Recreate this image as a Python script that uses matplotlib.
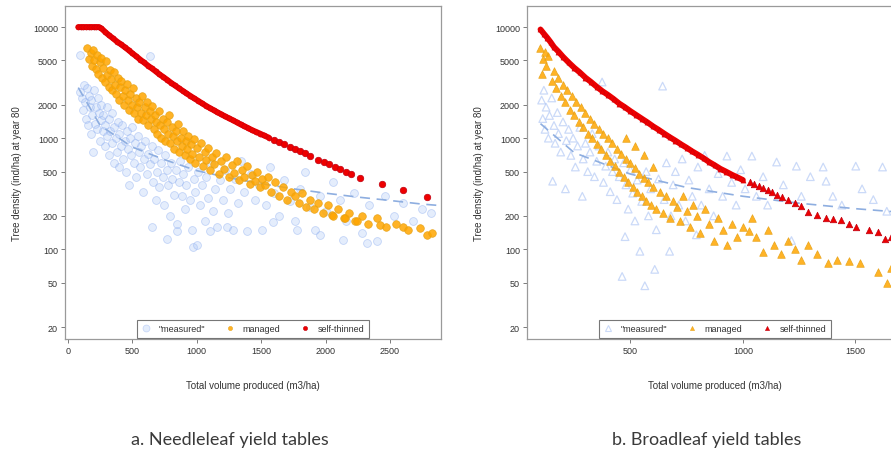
import matplotlib
matplotlib.use("Agg")
import matplotlib.pyplot as plt
from matplotlib.lines import Line2D

plt.rcParams["font.family"] = ["Liberation Sans", "DejaVu Sans"]

# ---------------- panel a: needleleaf ----------------
meas_x_a = [90, 95, 110, 120, 125, 135, 140, 150, 155, 160, 170, 175, 180, 190, 195, 200, 210, 215, 225, 230,
            240, 245, 255, 260, 270, 275, 285, 290, 300, 305, 315, 320, 330, 340, 345, 355, 360, 370, 380, 385,
            395, 400, 410, 420, 430, 440, 450, 455, 465, 475, 480, 490, 500, 510, 520, 530, 540, 550, 560, 570,
            580, 590, 600, 610, 620, 635, 640, 650, 652, 660, 670, 680, 690, 700, 710, 720, 735, 745, 755, 765,
            768, 775, 790, 800, 810, 825, 835, 846, 850, 860, 870, 885, 895, 910, 920, 935, 950, 960, 970, 975,
            990, 1000, 1010, 1025, 1040, 1060, 1075, 1090, 1102, 1110, 1125, 1140, 1160, 1180, 1200, 1220, 1234, 1240,
            1260, 1280, 1300, 1320, 1345, 1370, 1390, 1420, 1450, 1480, 1510, 1540, 1570, 1592, 1600, 1640, 1680,
            1720, 1760, 1778, 1800, 1840, 1880, 1920, 1957, 1960, 2000, 2060, 2110, 2135, 2160, 2220, 2280, 2321,
            2340, 2400, 2460, 2530, 2600, 2680, 2750, 2820]
meas_y_a = [5600, 2600, 2300, 1800, 3000, 2100, 1500, 2800, 1300, 2400, 1900, 1100, 2200, 1600, 750, 2700, 1350, 1900, 1200, 2300,
            1700, 950, 1450, 2000, 1150, 1600, 850, 1300, 1900, 1050, 700, 1500, 1150, 900, 1700, 600, 1250, 1000, 750, 1400,
            550, 1100, 850, 1300, 650, 950, 500, 1150, 800, 380, 1000, 700, 1250, 600, 900, 450, 1050, 750, 550, 850,
            330, 650, 950, 480, 720, 5500, 580, 850, 158, 400, 650, 280, 500, 780, 360, 600, 450, 250, 700, 520,
            123, 380, 200, 600, 430, 310, 520, 145, 170, 400, 620, 300, 480, 230, 380, 550, 280, 150, 104, 430,
            330, 110, 500, 250, 380, 180, 450, 290, 145, 600, 220, 350, 160, 420, 280, 520, 160, 210,
            350, 150, 430, 260, 620, 330, 145, 480, 280, 380, 150, 250, 550, 175, 320, 200, 420,
            270, 180, 150, 350, 500, 240, 150, 135, 300, 220, 400, 280, 122, 180, 320, 140, 115,
            250, 120, 300, 200, 260, 180, 230, 210]

man_x_a = [150, 160, 175, 185, 195, 205, 215, 225, 235, 245, 255, 265, 275, 285, 295, 305, 315, 325, 335, 345,
           355, 365, 375, 385, 395, 405, 415, 425, 435, 445, 455, 465, 475, 485, 495, 505, 515, 525, 535, 545,
           555, 565, 575, 585, 595, 605, 615, 625, 635, 645, 655, 665, 675, 685, 695, 705, 715, 725, 735, 745,
           755, 765, 775, 785, 795, 805, 815, 825, 835, 845, 855, 865, 875, 885, 895, 905, 915, 925, 935, 945,
           955, 965, 975, 985, 1000, 1015, 1030, 1045, 1060, 1075, 1090, 1105, 1120, 1135, 1150, 1170, 1190, 1210,
           1230, 1250, 1270, 1290, 1310, 1330, 1350, 1370, 1390, 1410, 1430, 1450, 1470, 1490, 1510, 1530, 1550,
           1580, 1610, 1640, 1670, 1700, 1730, 1760, 1790, 1820, 1850, 1880, 1910, 1940, 1980, 2020, 2050, 2060,
           2100, 2140, 2150, 2180, 2230, 2244, 2280, 2330, 2400, 2422, 2470, 2550, 2601, 2640, 2730, 2787, 2830]
man_y_a = [6500, 5200, 5800, 4500, 6200, 5000, 4200, 5600, 3800, 4800, 5300, 3500, 4300, 3200, 4900, 3700, 2900, 4100, 3400, 2700,
           3900, 3000, 2500, 3500, 2200, 2900, 3300, 2400, 2000, 2700, 3100, 2200, 1800, 2500, 2000, 2800, 1700, 2300, 1900, 1500,
           2100, 1700, 2400, 1450, 1900, 1600, 2100, 1300, 1750, 1500, 1950, 1200, 1600, 1400, 1100, 1750, 1300, 1000, 1500, 1200,
           950, 1400, 1100, 1600, 900, 1250, 1050, 800, 1150, 950, 1350, 750, 1000, 850, 1150, 700, 950, 800, 1050, 650,
           880, 720, 980, 600, 820, 680, 900, 560, 750, 630, 820, 520, 680, 580, 740, 480, 620, 530,
           680, 450, 570, 490, 620, 420, 520, 450, 560, 390, 470, 410, 500, 360, 430, 380, 450,
           330, 400, 300, 360, 280, 330, 300, 260, 320, 240, 280, 230, 260, 210, 250, 205, 200,
           230, 190, 190, 210, 180, 180, 200, 170, 190, 165, 160, 170, 160, 150, 155, 135, 140]

# self-thinned: continuous front, then scattered points
thin_x_a = [80, 100, 120, 140, 160, 180, 200, 220, 240, 260, 290, 320, 350, 380, 410, 440, 470, 500, 530, 560,
            590, 620, 650, 680, 710, 740, 770, 800, 830, 860, 890, 920, 950, 980, 1010, 1040, 1070, 1100, 1130, 1160,
            1190, 1220, 1250, 1280, 1310, 1340, 1370, 1400, 1430, 1460, 1490, 1520, 1560]
thin_y_a = [10000, 10000, 10000, 10000, 10000, 10000, 10000, 10000, 10000, 9700, 9000, 8400, 7900, 7400, 7000, 6600, 6200, 5800, 5450, 5100,
            4800, 4500, 4250, 4000, 3750, 3550, 3350, 3150, 2980, 2820, 2670, 2530, 2400, 2280, 2170, 2060, 1960, 1870, 1790, 1710,
            1640, 1570, 1510, 1450, 1390, 1330, 1280, 1230, 1180, 1140, 1100, 1060, 1010]
thin_sx_a = [1600, 1640, 1680, 1720, 1760, 1800, 1840, 1880, 1940, 1990, 2030, 2070, 2110, 2160, 2200, 2270, 2440, 2600, 2790]
thin_sy_a = [960, 920, 880, 840, 800, 760, 730, 690, 640, 610, 580, 555, 530, 500, 480, 440, 385, 340, 295]

fit_x_a = [80, 250, 500, 750, 1000, 1250, 1500, 1750, 2000, 2250, 2500, 2750, 2900]
fit_y_a = [2850, 1300, 830, 640, 510, 440, 390, 350, 320, 295, 275, 255, 247]

# ---------------- panel b: broadleaf ----------------
meas_x_b = [105, 110, 115, 120, 125, 135, 140, 150, 154, 160, 165, 175, 180, 190, 200, 211, 215, 225, 235, 245,
            255, 265, 275, 286, 290, 300, 310, 320, 330, 340, 350, 360, 374, 380, 390, 400, 410, 420, 430, 440,
            450, 463, 470, 476, 480, 490, 500, 510, 520, 530, 542, 550, 564, 570, 580, 590, 608, 615, 625, 643,
            650, 660, 674, 680, 690, 700, 715, 730, 745, 760, 775, 793, 800, 815, 830, 850, 870, 890, 910, 929,
            950, 970, 990, 1010, 1040, 1060, 1090, 1110, 1150, 1180, 1216, 1238, 1260, 1300, 1357, 1370, 1400, 1440,
            1502, 1530, 1580, 1621, 1640]
meas_y_b = [2200, 1500, 2700, 1200, 1900, 1000, 1600, 2300, 410, 1300, 900, 1700, 1100, 750, 1400, 350, 950, 1200, 700, 1000,
            550, 850, 1250, 300, 650, 900, 500, 750, 1100, 450, 620, 850, 3200, 400, 560, 750, 330, 500, 650, 280,
            450, 57, 600, 130, 380, 230, 520, 320, 180, 420, 96, 270, 47, 500, 200, 350, 66, 150, 430, 2940,
            280, 600, 96, 200, 380, 500, 250, 650, 180, 420, 300, 135, 550, 250, 700, 350, 200, 480, 300, 690,
            400, 250, 520, 350, 690, 300, 450, 250, 610, 380, 120, 560, 300, 450, 550, 410, 300, 250,
            560, 350, 280, 550, 220]

man_x_b = [100, 105, 110, 120, 125, 135, 150, 160, 170, 180, 190, 200, 210, 220, 230, 240, 250, 260, 270, 280,
           290, 300, 310, 320, 330, 340, 350, 360, 370, 380, 390, 400, 410, 420, 430, 440, 450, 460, 470, 480,
           480, 490, 500, 510, 520, 520, 530, 540, 550, 560, 560, 570, 580, 590, 600, 600, 615, 630, 645, 660,
           675, 690, 705, 720, 735, 750, 765, 780, 795, 810, 830, 850, 870, 890, 910, 930, 950, 975, 1000, 1026,
           1040, 1060, 1090, 1110, 1140, 1170, 1200, 1230, 1260, 1290, 1330, 1380, 1420, 1470, 1520, 1600, 1640, 1660]
man_y_b = [6500, 3800, 5200, 6000, 4500, 5500, 3300, 4000, 2800, 3500, 2400, 3000, 2100, 2700, 1800, 2400, 1600, 2100, 1400, 1900,
           1250, 1700, 1100, 1500, 1000, 1350, 880, 1200, 800, 1100, 700, 1000, 620, 900, 560, 800, 500, 720, 450, 650,
           1000, 400, 600, 360, 540, 850, 330, 480, 300, 440, 700, 270, 400, 250, 360, 550, 230, 330, 210, 300,
           190, 270, 240, 180, 300, 220, 160, 250, 200, 140, 230, 170, 120, 190, 150, 110, 170, 130, 160, 145,
           190, 130, 95, 150, 110, 90, 120, 100, 80, 110, 90, 75, 80, 78, 75, 62, 50, 68]

thin_x_b = [100, 115, 130, 145, 160, 180, 200, 225, 250, 275, 300, 325, 350, 375, 400, 425, 450, 475, 500, 525,
            550, 575, 600, 625, 650, 675, 700, 725, 750, 775, 800, 825, 850, 875, 900, 925, 950, 975, 1000]
thin_y_b = [9500, 8700, 8000, 7300, 6600, 6000, 5400, 4800, 4300, 3900, 3500, 3200, 2900, 2650, 2450, 2250, 2050, 1900, 1750, 1620,
            1500, 1390, 1280, 1190, 1100, 1020, 950, 880, 820, 760, 710, 660, 610, 570, 530, 500, 470, 445, 420]
thin_sx_b = [1030, 1050, 1070, 1090, 1110, 1130, 1150, 1175, 1200, 1230, 1260, 1291, 1330, 1370, 1400, 1436, 1470, 1502,
             1560, 1600, 1630, 1660]
thin_sy_b = [400, 385, 370, 355, 340, 325, 310, 295, 275, 260, 245, 215, 205, 190, 186, 183, 170, 160,
             150, 142, 123, 130]

fit_x_b = [100, 250, 500, 750, 1000, 1250, 1500, 1720]
fit_y_b = [1350, 740, 475, 360, 300, 260, 232, 214]

y_ticks = [20, 50, 100, 200, 500, 1000, 2000, 5000, 10000]
x_ticks_a = [0, 500, 1000, 1500, 2000, 2500]
x_ticks_b = [500, 1000, 1500]
legend_labels = ['"measured"', "managed", "self-thinned"]

MEAS_FACE = (0.66, 0.77, 0.97, 0.30)
MEAS_EDGE = (0.55, 0.68, 0.94, 0.45)
MAN_FACE = (1.0, 0.65, 0.0, 0.85)
MAN_EDGE = (0.90, 0.63, 0.08, 0.9)
RED = "#ee0000"
RED_EDGE = "#c00010"
FIT_COL = "#8eaee0"


def draw_panel(ax, mx, my, nx, ny, tx, ty, tsx, tsy, fx, fy, marker, open_meas, xticks, xlim):
    ax.set_yscale("log")
    if open_meas:
        ax.scatter(mx, my, s=30, marker=marker, facecolors="none", edgecolors=MEAS_EDGE, linewidths=0.9, zorder=2)
    else:
        ax.scatter(mx, my, s=32, marker=marker, facecolors=MEAS_FACE, edgecolors=MEAS_EDGE, linewidths=0.6, zorder=2)
    ax.plot(fx, fy, color=FIT_COL, lw=1.2, dashes=(6, 4), zorder=3)
    ax.scatter(nx, ny, s=30, marker=marker, facecolors=MAN_FACE, edgecolors=MAN_EDGE, linewidths=0.5, zorder=4)
    ax.plot(tx, ty, color=RED, lw=4.2, solid_capstyle="round", zorder=5)
    ax.scatter(tx, ty, s=14, marker=marker, color=RED, edgecolors=RED_EDGE, linewidths=0.3, zorder=6)
    ax.scatter(tsx, tsy, s=22, marker=marker, color=RED, edgecolors=RED_EDGE, linewidths=0.5, zorder=6)

    ax.set_xlim(*xlim)
    ax.set_ylim(15.6, 15450)
    ax.set_yticks(y_ticks)
    ax.set_yticklabels([str(v) for v in y_ticks])
    ax.minorticks_off()
    ax.set_xticks(xticks)
    ax.tick_params(axis="both", labelsize=6.5, length=3, width=0.6, color="#666666", labelcolor="#333333", pad=2)
    for sp in ax.spines.values():
        sp.set_color("#9a9a9a")
        sp.set_linewidth(0.9)
    ax.set_xlabel("Total volume produced (m3/ha)", fontsize=7, color="#333333", labelpad=18)
    ax.set_ylabel("Tree density (ind/ha) at year 80", fontsize=7, color="#333333", labelpad=8)

    if open_meas:
        h_meas = Line2D([], [], ls="none", marker=marker, ms=5, mfc="none", mec=MEAS_EDGE, mew=0.8)
    else:
        h_meas = Line2D([], [], ls="none", marker=marker, ms=5, mfc=MEAS_FACE, mec=MEAS_EDGE, mew=0.5)
    h_man = Line2D([], [], ls="none", marker=marker, ms=3, mfc=MAN_FACE, mec=MAN_EDGE, mew=0.4)
    h_thin = Line2D([], [], ls="none", marker=marker, ms=3, mfc=RED, mec=RED_EDGE, mew=0.4)
    leg = ax.legend([h_meas, h_man, h_thin], legend_labels, loc="lower center", bbox_to_anchor=(0.5, 0.004),
                    ncol=3, fontsize=6.5, frameon=True, fancybox=False, borderpad=0.5,
                    handletextpad=0.9, columnspacing=2.2, handlelength=1.0, borderaxespad=0)
    leg.get_frame().set_edgecolor("#555555")
    leg.get_frame().set_linewidth(0.8)
    for t in leg.get_texts():
        t.set_color("#333333")
    leg.set_zorder(10)


fig = plt.figure(figsize=(8.91, 4.52), dpi=100)
ax_a = fig.add_axes([65 / 891, 1 - 340 / 452, 376 / 891, 333 / 452])
ax_b = fig.add_axes([527 / 891, 1 - 340 / 452, 376 / 891, 333 / 452])

draw_panel(ax_a, meas_x_a, meas_y_a, man_x_a, man_y_a, thin_x_a, thin_y_a, thin_sx_a, thin_sy_a,
           fit_x_a, fit_y_a, "o", False, x_ticks_a, (-23, 2896))
draw_panel(ax_b, meas_x_b, meas_y_b, man_x_b, man_y_b, thin_x_b, thin_y_b, thin_sx_b, thin_sy_b,
           fit_x_b, fit_y_b, "^", True, x_ticks_b, (40, 1712))

fig.text(230 / 891, 1 - 440 / 452, "a. Needleleaf yield tables", ha="center", va="center",
         fontsize=13, color="#3a3a3a", family=["Lato", "DejaVu Sans"])
fig.text(707 / 891, 1 - 440 / 452, "b. Broadleaf yield tables", ha="center", va="center",
         fontsize=13, color="#3a3a3a", family=["Lato", "DejaVu Sans"])

fig.savefig("out.png", dpi=100)
